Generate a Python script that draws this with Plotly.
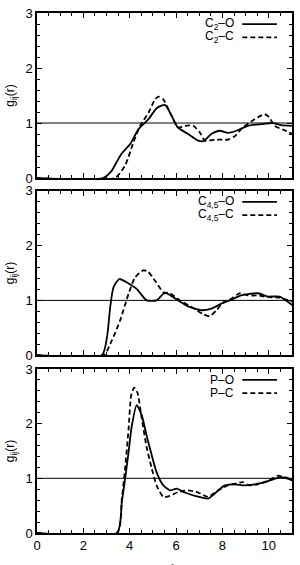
import plotly.graph_objects as go

# ---------------- data ----------------
r_c2_o = [0, 2.85, 3.2, 3.45, 3.66, 4.02, 4.38, 4.81, 5.16, 5.52, 5.81, 6.07, 6.52, 6.95, 7.17, 7.52, 7.88, 8.24, 8.6, 9.1, 9.67, 10.17, 10.53, 11.0]
g_c2_o = [0, 0, 0.12, 0.3, 0.45, 0.62, 0.89, 1.07, 1.27, 1.33, 1.13, 0.92, 0.80, 0.68, 0.67, 0.80, 0.86, 0.82, 0.86, 0.95, 0.98, 1.0, 0.96, 0.95]

r_c2_c = [0, 3.35, 3.8, 4.16, 4.45, 4.81, 5.09, 5.24, 5.45, 5.74, 6.09, 6.38, 6.74, 7.02, 7.24, 7.7, 8.24, 8.53, 8.88, 9.39, 9.82, 10.03, 10.24, 10.67, 11.03]
g_c2_c = [0, 0, 0.23, 0.65, 0.95, 1.19, 1.43, 1.48, 1.43, 1.19, 0.92, 0.95, 0.95, 0.83, 0.68, 0.70, 0.70, 0.76, 0.92, 1.07, 1.16, 1.10, 0.95, 0.87, 0.80]

r_c45_o = [0, 2.8, 3.02, 3.16, 3.3, 3.55, 3.95, 4.3, 4.73, 5.16, 5.45, 5.6, 6.09, 6.52, 7.1, 7.52, 7.95, 8.38, 8.81, 9.53, 9.96, 10.46, 11.03]
g_c45_o = [0, 0, 0.33, 0.88, 1.24, 1.39, 1.31, 1.21, 1.0, 1.0, 1.12, 1.13, 1.0, 0.89, 0.82, 0.85, 0.94, 1.01, 1.09, 1.13, 1.07, 1.07, 0.91]

r_c45_c = [0, 2.87, 3.23, 3.59, 3.95, 4.23, 4.59, 4.8, 5.09, 5.45, 5.74, 6.16, 6.67, 7.17, 7.45, 7.74, 8.05, 8.38, 8.74, 9.1, 9.53, 9.96, 10.46, 11.03]
g_c45_c = [0, 0, 0.27, 0.64, 1.12, 1.42, 1.55, 1.52, 1.36, 1.15, 1.13, 1.0, 0.88, 0.75, 0.71, 0.82, 0.97, 1.03, 1.13, 1.09, 1.09, 1.06, 1.05, 0.98]

r_p_o = [0, 3.45, 3.66, 3.8, 3.95, 4.09, 4.3, 4.52, 4.73, 4.95, 5.16, 5.45, 5.74, 6.02, 6.38, 6.81, 7.38, 7.67, 8.1, 8.53, 8.96, 9.39, 9.96, 10.53, 11.03]
g_p_o = [0, 0, 0.57, 0.99, 1.48, 1.96, 2.34, 2.15, 1.78, 1.42, 1.11, 0.87, 0.78, 0.81, 0.74, 0.68, 0.63, 0.72, 0.87, 0.89, 0.87, 0.89, 0.95, 1.02, 0.96]

r_p_c = [0, 3.45, 3.66, 3.8, 3.95, 4.06, 4.19, 4.33, 4.52, 4.73, 4.95, 5.16, 5.45, 5.74, 6.09, 6.52, 6.95, 7.38, 7.81, 8.24, 8.53, 8.88, 9.17, 9.53, 9.96, 10.39, 10.67, 11.03]
g_p_c = [0, 0, 0.63, 1.18, 1.9, 2.51, 2.66, 2.57, 2.09, 1.57, 1.18, 0.87, 0.66, 0.68, 0.75, 0.78, 0.74, 0.66, 0.78, 0.87, 0.90, 0.93, 0.87, 0.89, 0.95, 1.05, 1.02, 0.98]

panel_labels = [("C<sub>2</sub>–O", "C<sub>2</sub>–C"),
                ("C<sub>4,5</sub>–O", "C<sub>4,5</sub>–C"),
                ("P–O", "P–C")]
x_tick_vals = [0, 2, 4, 6, 8, 10]
y_tick_vals = [0, 1, 2, 3]
x_title = "r / Å"
y_title = "g<sub>ij</sub>(r)"

# ---------------- figure ----------------
FONT = "Liberation Sans, Arial, sans-serif"
fig = go.Figure()

series = [
    (r_c2_o, g_c2_o, r_c2_c, g_c2_c),
    (r_c45_o, g_c45_o, r_c45_c, g_c45_c),
    (r_p_o, g_p_o, r_p_c, g_p_c),
]
domains = [[0.6826, 1.0], [0.342, 0.658], [0.0, 0.3155]]

for i, (ro, go_, rc, gc) in enumerate(series):
    n = i + 1
    xa = "x" if n == 1 else f"x{n}"
    ya = "y" if n == 1 else f"y{n}"
    fig.add_trace(go.Scatter(x=ro, y=go_, mode="lines", xaxis=xa, yaxis=ya,
                             line=dict(color="black", width=1.8, shape="spline", smoothing=0.6),
                             showlegend=False))
    fig.add_trace(go.Scatter(x=rc, y=gc, mode="lines", xaxis=xa, yaxis=ya,
                             line=dict(color="black", width=1.8, dash="5px,3px", shape="spline", smoothing=0.6),
                             showlegend=False))
    # reference line g=1
    fig.add_shape(type="line", xref=f"{xa} domain", yref=ya, x0=0, x1=1, y0=1, y1=1,
                  line=dict(color="black", width=1))
    # legend (text left, sample line right)
    lab_o, lab_c = panel_labels[i]
    for j, (lab, dash, yy) in enumerate([(lab_o, "solid", 0.933), (lab_c, "5px,3px", 0.852)]):
        fig.add_annotation(xref=f"{xa} domain", yref=f"{ya} domain", x=0.777, y=yy,
                           xanchor="right", yanchor="middle", text=lab, showarrow=False,
                           borderpad=0,
                           font=dict(family=FONT, size=12, color="black"))
        fig.add_shape(type="line", xref=f"{xa} domain", yref=f"{ya} domain",
                      x0=0.805, x1=0.941, y0=yy, y1=yy,
                      line=dict(color="black", width=1.8, dash=dash))

    axis_common = dict(showline=True, linecolor="black", linewidth=1.5, mirror="ticks",
                       ticks="inside", ticklen=5, tickcolor="black", tickwidth=1,
                       showgrid=False, zeroline=False,
                       tickfont=dict(family=FONT, size=13, color="black"))
    fig.layout[("xaxis" if n == 1 else f"xaxis{n}")] = dict(
        range=[0, 11], tickvals=x_tick_vals, anchor=ya, showticklabels=(n == 3),
        minor=dict(dtick=0.5, ticks="inside", ticklen=3, tickcolor="black"),
        **axis_common)
    fig.layout[("yaxis" if n == 1 else f"yaxis{n}")] = dict(
        range=[0, 3], tickvals=y_tick_vals, anchor=xa, domain=domains[i],
        minor=dict(dtick=0.2, ticks="inside", ticklen=3, tickcolor="black"),
        title=dict(text=y_title, font=dict(family=FONT, size=12, color="black"), standoff=8),
        **axis_common)

fig.add_annotation(xref="paper", yref="paper", x=0.5, y=-0.055, xanchor="center", yanchor="top",
                   text=x_title, showarrow=False, font=dict(family=FONT, size=13, color="black"))

fig.update_layout(width=300, height=565, margin=dict(l=37, r=6, t=10, b=32),
                  plot_bgcolor="white", paper_bgcolor="white", showlegend=False)

fig.write_html("out.html")
